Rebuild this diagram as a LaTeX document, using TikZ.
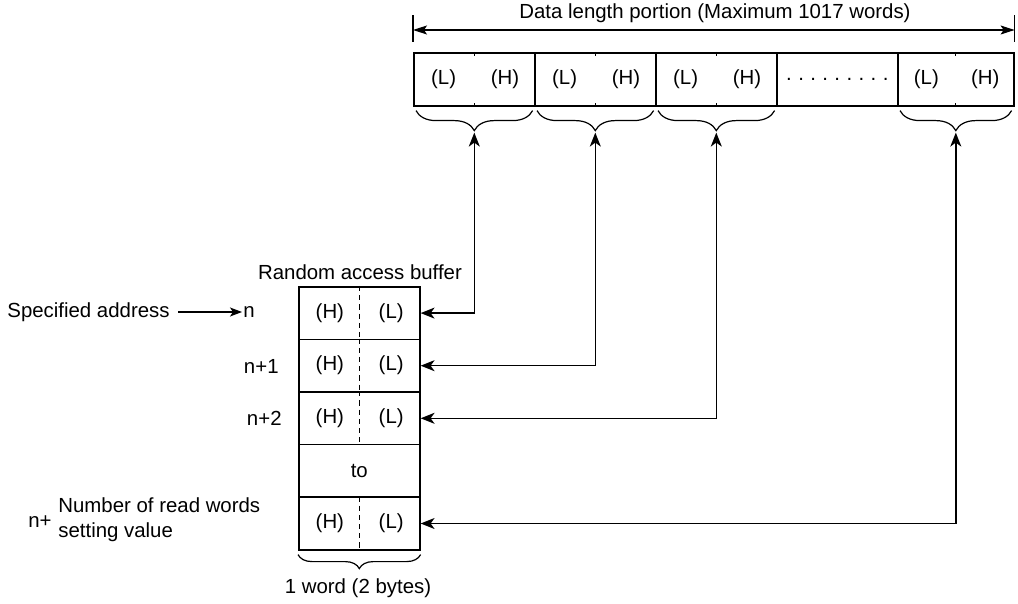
\documentclass[tikz,border=0pt]{standalone}
\usepackage{fontspec}
\setmainfont{Liberation Sans}
\usetikzlibrary{arrows.meta,decorations.pathreplacing,calc}
\begin{document}
\begin{tikzpicture}[x=0.5pt,y=-0.5pt,
  font=\fontsize{10.2}{12.5}\selectfont,
  topcell/.style={draw, line width=0.8pt, minimum width=60.5pt, minimum height=26.5pt, inner sep=0pt, anchor=north west},
  bufcell/.style={draw, line width=0.8pt, minimum width=60.5pt, minimum height=26.3pt, inner sep=0pt, anchor=north west},
  lbl/.style={inner sep=1pt},
  brc/.style={decorate, decoration={brace, mirror, amplitude=10pt}, line width=0.6pt},
  smallbrc/.style={decorate, decoration={brace, mirror, amplitude=7pt}, line width=0.6pt},
  conn/.style={line width=0.7pt, {Stealth[length=7pt,width=5.5pt,inset=2pt]}-{Stealth[length=7pt,width=5.5pt,inset=2pt]}},
  conn1/.style={line width=0.6pt, -{Stealth[length=6pt,width=4.5pt,inset=1.5pt]}},
  dim/.style={line width=0.6pt, {Stealth[length=7pt,width=4.5pt,inset=1.5pt]}-{Stealth[length=7pt,width=4.5pt,inset=1.5pt]}},
  divtick/.style={line width=0.6pt},
  bufdash/.style={line width=0.6pt, dash pattern=on 2.6pt off 2pt}
]
\useasboundingbox (0,0) rectangle (1018,604);

% ---- top data row ----
\node[topcell] (c1) at (413,52) {};
\node[topcell] (c2) at (534,52) {};
\node[topcell] (c3) at (655,52) {};
\node[topcell] (c4) at (776,52) {};
\node[topcell, minimum width=58pt] (c5) at (897,52) {};
\foreach \c in {1,2,3,5}{
  \node[lbl] (l\c) at ($(c\c.west)!0.25!(c\c.east)$) {(L)};
  \node[lbl] (h\c) at ($(c\c.west)!0.75!(c\c.east)$) {(H)};
  \draw[divtick] (c\c.north) -- ++(0,4);
  \draw[divtick] (c\c.south) -- ++(0,-4);
  \draw[brc] ($(c\c.south west)+(3,4)$) -- ($(c\c.south east)+(-3,4)$);
  \coordinate (t\c) at ($(c\c.south)+(0,26)$);
}
\node[lbl] (dots) at (c4.center) {.\hspace{3.2pt}.\hspace{3.2pt}.\hspace{3.2pt}.\hspace{3.2pt}.\hspace{3.2pt}.\hspace{3.2pt}.\hspace{3.2pt}.\hspace{3.2pt}.};

% ---- dimension line ----
\draw[divtick] ($(c1.north west)+(0,-10)$) -- ++(0,-27);
\draw[divtick] ($(c5.north east)+(0,-10)$) -- ++(0,-27);
\coordinate (dA) at ($(c1.north west)+(0,-22)$);
\coordinate (dB) at ($(c5.north east)+(0,-22)$);
\draw[dim] (dA) -- (dB);
\node[lbl] (title) at (715,13) {Data length portion (Maximum 1017 words)};

% ---- random access buffer ----
\node[lbl] (rab) at (360,272) {Random access buffer};
\node[bufcell] (r1) at (298,286) {};
\node[bufcell] (r2) at (298,338.6) {};
\node[bufcell] (r3) at (298,391.2) {};
\node[bufcell] (r4) at (298,443.8) {to};
\node[bufcell] (r5) at (298,496.4) {};
\foreach \r in {1,2,3,5}{
  \draw[bufdash] (r\r.north) -- (r\r.south);
  \node[lbl] (bh\r) at ($(r\r.west)!0.26!(r\r.east)$) {(H)};
  \node[lbl] (bl\r) at ($(r\r.west)!0.76!(r\r.east)$) {(L)};
}
\draw[smallbrc] ($(r5.south west)+(0,4)$) -- ($(r5.south east)+(0,4)$);
\node[lbl] (word) at (358,588) {1 word (2 bytes)};

% ---- left labels ----
\node[lbl, anchor=east, inner xsep=4pt] (spec) at (178,312) {Specified address};
\node[lbl, anchor=west, inner xsep=0.5pt] (n0) at (242,312) {n};
\draw[conn1] (spec.east) -- (n0.west);
\node[lbl, anchor=east] (n1) at (281,366) {n+1};
\node[lbl, anchor=east] (n2) at (284,418) {n+2};
\node[lbl] (np) at (40,522) {n+};
\node[lbl, anchor=west, align=left] (nrw) at (56,520) {Number of read words\\setting value};

% ---- connectors ----
\draw[conn] (r1.east) -| (t1);
\draw[conn] (r2.east) -| (t2);
\draw[conn] (r3.east) -| (t3);
\draw[conn] (r5.east) -| (t5);
\end{tikzpicture}
\end{document}
